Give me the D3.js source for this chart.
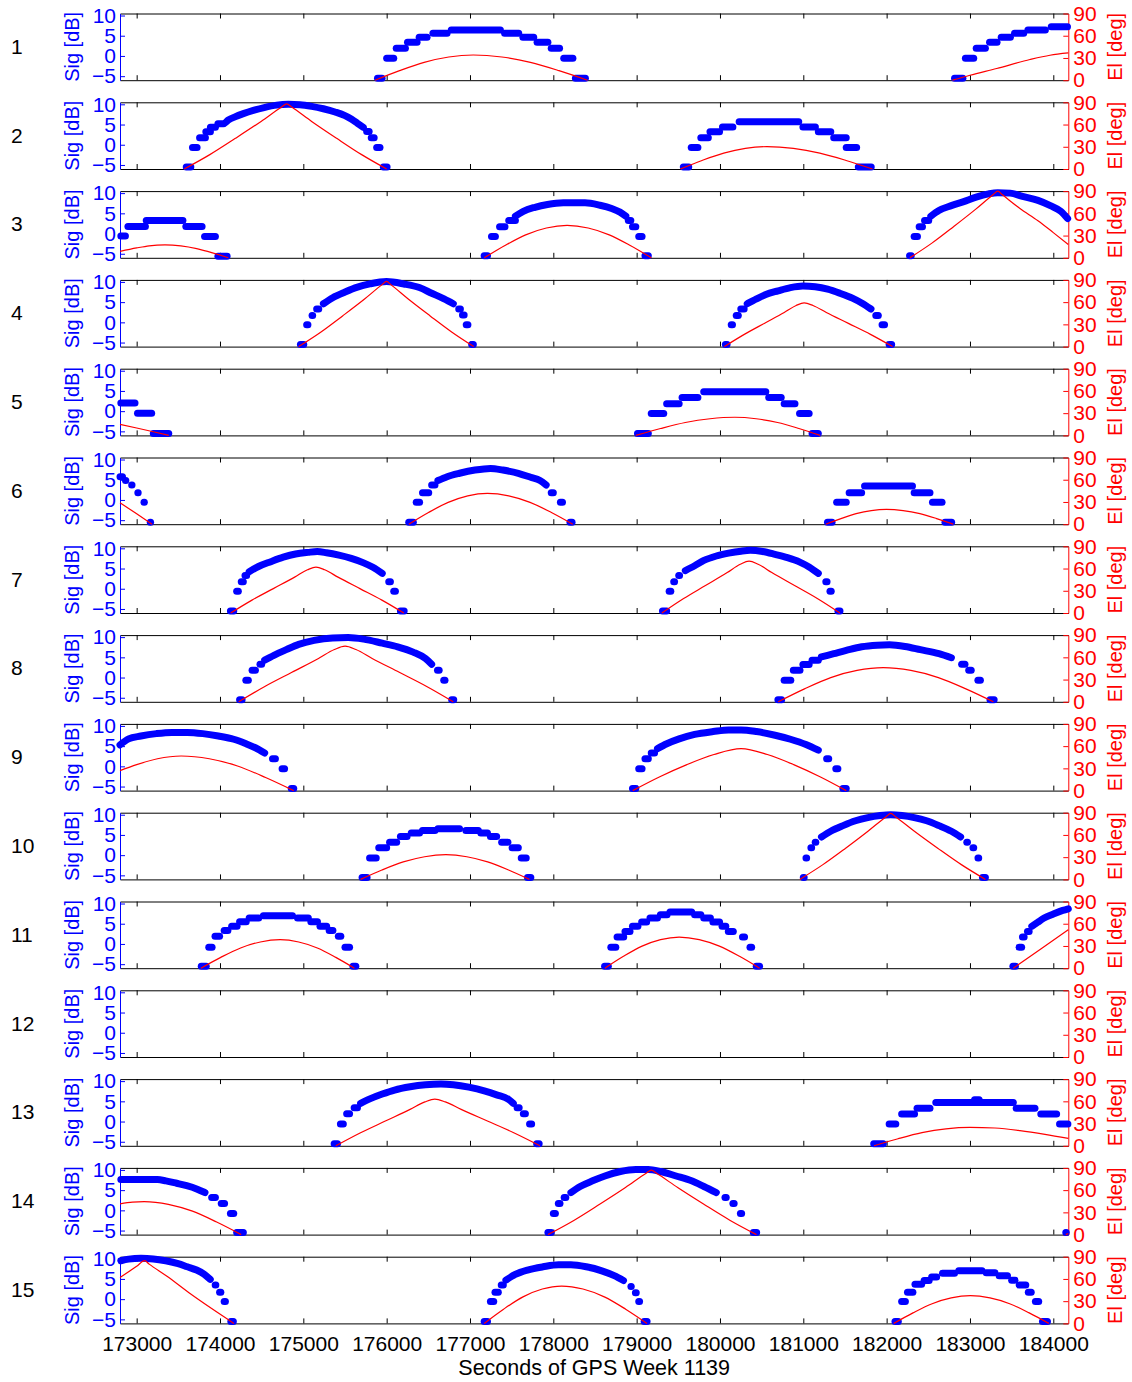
<!DOCTYPE html>
<html lang="en">
<head>
  <meta charset="UTF-8">
  <title>Signal and elevation, GPS week 1139</title>
  <script src="https://d3js.org/d3.v7.min.js"></script>
  <style>
    body { margin: 0; background: #fff; }
    svg { display: block; font-family: "Liberation Sans", Arial, Helvetica, sans-serif; }
  </style>
</head>
<body>
<svg width="1132" height="1382"></svg>
<script>
// tick values
var timeTicks = [173000, 174000, 175000, 176000, 177000, 178000, 179000, 180000, 181000, 182000, 183000, 184000];
var sigTicks = [-5, 0, 5, 10];
var elTicks = [0, 30, 60, 90];
var panelNames = ["1", "2", "3", "4", "5", "6", "7", "8", "9", "10", "11", "12", "13", "14", "15"];

// signal runs: each run is a list of [seconds, dB] (dot centres)
var sig01 = [
  [[175890,-5.5],[175945,-5.5]], [[176000,-0.6],[176085,-0.6]], [[176115,1.9],[176225,1.9]],
  [[176250,3.4],[176365,3.4]], [[176390,4.6],[176485,4.6]], [[176555,5.6],[176725,5.6]],
  [[176775,6.4],[177365,6.4]], [[177415,5.6],[177585,5.6]], [[177635,4.6],[177765,4.6]],
  [[177805,3.4],[177935,3.4]], [[177975,1.9],[178075,1.9]], [[178125,-0.6],[178235,-0.6]],
  [[178265,-5.5],[178385,-5.5]],
  [[182815,-5.5],[182915,-5.5]], [[182945,-0.6],[183045,-0.6]], [[183075,1.9],[183185,1.9]],
  [[183235,3.4],[183325,3.4]], [[183375,4.6],[183485,4.6]], [[183535,5.6],[183645,5.6]],
  [[183695,6.4],[183905,6.4]], [[183975,7.2],[184170,7.2]]
];
var sig02 = [
  [[173595,-5.5],[173650,-5.5]], [[173670,-0.7],[173725,-0.7]], [[173755,1.7],[173825,1.7]],
  [[173830,3.2],[173885,3.2]], [[173885,4.3],[173945,4.3]],
  [[173975,5.2],[174040,5.2],[174100,6.1],[174180,6.9],[174280,7.7],[174400,8.5],[174530,9.2],[174680,9.8],[174820,10.0],[174960,9.9],[175100,9.5],[175240,8.9],[175380,8.1],[175500,7.2],[175580,6.3],[175650,5.3],[175720,4.3]],
  [[175760,3.3],[175790,3.3]], [[175815,1.7],[175850,1.7]], [[175880,-0.7],[175920,-0.7]], [[175960,-5.5],[176005,-5.5]],
  [[179560,-5.5],[179625,-5.5]], [[179655,-0.7],[179735,-0.7]], [[179770,1.75],[179860,1.75]],
  [[179880,3.2],[179995,3.2]], [[180030,4.4],[180155,4.4]], [[180230,5.7],[180945,5.7]],
  [[180995,4.4],[181145,4.4]], [[181180,3.2],[181330,3.2]], [[181365,1.75],[181515,1.75]],
  [[181515,-0.7],[181640,-0.7]], [[181660,-5.5],[181815,-5.5]]
];
var sig03 = [
  [[172810,-0.6],[172865,-0.6]], [[172895,1.75],[173105,1.75]], [[173115,3.25],[173555,3.25]],
  [[173590,1.75],[173785,1.75]], [[173815,-0.7],[173945,-0.7]], [[173975,-5.6],[174085,-5.6]],
  [[177170,-5.5],[177210,-5.5]], [[177258,-0.7],[177305,-0.7]], [[177355,1.7],[177420,1.7]],
  [[177465,3.2],[177545,3.2]],
  [[177545,4.3],[177640,5.5],[177780,6.5],[177930,7.2],[178120,7.6],[178380,7.6],[178560,7.0],[178700,6.2],[178800,5.3],[178870,4.3]],
  [[178900,3.2],[178930,3.2]], [[178950,1.7],[178990,1.7]], [[179025,-0.7],[179065,-0.7]], [[179100,-5.5],[179140,-5.5]],
  [[182275,-5.5],[182295,-5.5]], [[182330,-0.7],[182370,-0.7]], [[182390,1.7],[182430,1.7]], [[182455,3.2],[182505,3.2]],
  [[182530,4.3],[182627,5.7],[182776,6.9],[182925,7.9],[183074,9.0],[183222,9.8],[183333,10.1],[183482,10.0],[183630,9.2],[183816,8.2],[183965,6.9],[184091,5.5],[184172,3.7]]
];
var sig04 = [
  [[174965,-5.5],[175005,-5.5]], [[175040,-0.6],[175055,-0.6]], [[175105,1.7],[175112,1.7]], [[175160,3.3],[175185,3.3]],
  [[175241,4.6],[175353,6.1],[175501,7.5],[175650,8.7],[175798,9.5],[175998,10.1],[176206,9.5],[176392,8.6],[176540,7.2],[176689,5.8],[176800,4.6]],
  [[176865,3.3],[176885,3.3]], [[176910,1.8],[176930,1.8]], [[176955,-0.6],[176975,-0.6]], [[177020,-5.5],[177040,-5.5]],
  [[180065,-5.5],[180085,-5.5]], [[180135,-0.6],[180150,-0.6]], [[180195,1.7],[180220,1.7]], [[180250,3.3],[180290,3.3]],
  [[180327,4.6],[180438,5.8],[180550,6.9],[180698,7.8],[180846,8.6],[180995,9.0],[181143,8.8],[181292,8.2],[181440,7.2],[181589,6.0],[181700,4.8],[181812,3.3]],
  [[181870,1.7],[181900,1.7]], [[181945,-0.6],[181975,-0.6]], [[182030,-5.5],[182060,-5.5]]
];
var sig05 = [
  [[172810,2.0],[172980,2.0]], [[173010,-0.5],[173180,-0.5]], [[173200,-5.5],[173385,-5.5]],
  [[179010,-5.5],[179140,-5.5]], [[179175,-0.6],[179325,-0.6]], [[179360,1.8],[179510,1.8]],
  [[179545,3.4],[179735,3.4]], [[179805,4.8],[180550,4.8]], [[180585,3.4],[180735,3.4]],
  [[180770,1.8],[180900,1.8]], [[180955,-0.6],[181070,-0.6]], [[181105,-5.5],[181180,-5.5]]
];
var sig06 = [
  [[172800,5.75],[172830,5.75]], [[172866,4.8],[172870,4.8]], [[172940,3.7],[172944,3.7]],
  [[173014,1.8],[173018,1.8]], [[173088,-0.6],[173092,-0.6]], [[173163,-5.5],[173167,-5.5]],
  [[176265,-5.5],[176320,-5.5]], [[176355,-0.6],[176395,-0.6]], [[176430,1.8],[176505,1.8]], [[176540,3.7],[176580,3.7]],
  [[176615,4.8],[176726,5.75],[176875,6.6],[177060,7.4],[177246,7.8],[177394,7.4],[177580,6.6],[177728,5.6],[177840,4.8],[177914,3.7]],
  [[177975,1.8],[178000,1.8]], [[178085,-0.6],[178110,-0.6]], [[178200,-5.5],[178225,-5.5]],
  [[181290,-5.5],[181345,-5.5]], [[181400,-0.6],[181515,-0.6]], [[181550,1.8],[181700,1.8]],
  [[181735,3.45],[182310,3.45]], [[182330,1.8],[182520,1.8]], [[182550,-0.6],[182665,-0.6]], [[182700,-5.5],[182780,-5.5]]
];
var sig07 = [
  [[174125,-5.5],[174165,-5.5]], [[174200,-0.6],[174220,-0.6]], [[174255,1.7],[174280,1.7]], [[174300,3.3],[174320,3.3]],
  [[174350,4.2],[174462,5.5],[174610,6.7],[174759,7.8],[174907,8.6],[175056,9.0],[175167,9.2],[175278,8.9],[175427,8.3],[175575,7.5],[175724,6.4],[175835,5.3],[175947,3.8]],
  [[176025,1.7],[176045,1.7]], [[176085,-0.6],[176105,-0.6]], [[176165,-5.5],[176210,-5.5]],
  [[179310,-5.5],[179360,-5.5]], [[179390,-0.6],[179410,-0.6]], [[179445,1.7],[179455,1.7]], [[179505,3.3],[179515,3.3]],
  [[179584,4.5],[179696,5.7],[179807,7.0],[179956,8.1],[180104,8.8],[180253,9.3],[180364,9.5],[180512,9.2],[180661,8.5],[180809,7.7],[180958,6.6],[181069,5.4],[181180,3.8]],
  [[181270,1.7],[181285,1.7]], [[181320,-0.6],[181335,-0.6]], [[181415,-5.5],[181440,-5.5]]
];
var sig08 = [
  [[174235,-5.5],[174265,-5.5]], [[174310,-0.7],[174340,-0.7]], [[174385,1.8],[174425,1.8]], [[174480,3.3],[174500,3.3]],
  [[174536,4.3],[174647,5.5],[174796,6.9],[174944,8.2],[175130,9.2],[175353,9.8],[175538,9.9],[175724,9.5],[175947,8.5],[176132,7.6],[176318,6.3],[176466,4.7],[176540,3.3]],
  [[176610,1.8],[176630,1.8]], [[176685,-0.7],[176700,-0.7]], [[176780,-5.5],[176805,-5.5]],
  [[180695,-5.5],[180740,-5.5]], [[180770,-0.7],[180850,-0.7]], [[180880,1.8],[180960,1.8]],
  [[180995,3.2],[181070,3.2]], [[181105,4.3],[181180,4.3]],
  [[181217,5.1],[181366,5.9],[181515,6.7],[181700,7.6],[181886,8.0],[182034,8.1],[182220,7.7],[182405,6.9],[182628,5.9],[182777,4.9]],
  [[182900,3.3],[182940,3.3]], [[182985,1.8],[183015,1.8]], [[183095,-0.7],[183125,-0.7]], [[183240,-5.5],[183290,-5.5]]
];
var sig09 = [
  [[172800,5.3],[172903,6.8],[173051,7.5],[173237,8.1],[173422,8.4],[173608,8.4],[173794,8.1],[173980,7.5],[174165,6.7],[174313,5.6],[174425,4.6],[174536,3.3]],
  [[174630,1.9],[174665,1.9]], [[174745,-0.6],[174775,-0.6]], [[174855,-5.5],[174885,-5.5]],
  [[178950,-5.5],[178990,-5.5]], [[179025,-0.6],[179065,-0.6]], [[179100,1.9],[179140,1.9]], [[179175,3.3],[179215,3.3]],
  [[179250,4.4],[179362,5.6],[179510,6.8],[179696,7.9],[179919,8.6],[180104,9.0],[180253,9.0],[180438,8.6],[180661,7.7],[180846,6.7],[181032,5.4],[181180,4.0]],
  [[181280,1.9],[181305,1.9]], [[181390,-0.6],[181415,-0.6]], [[181475,-5.5],[181515,-5.5]]
];
var sig10 = [
  [[175705,-5.5],[175765,-5.5]], [[175795,-0.7],[175875,-0.7]], [[175905,1.8],[176000,1.8]],
  [[176035,3.2],[176120,3.2]], [[176165,4.6],[176245,4.6]], [[176295,5.5],[176395,5.5]],
  [[176430,6.1],[176580,6.1]], [[176615,6.5],[176875,6.5]], [[176950,6.1],[177100,6.1]],
  [[177130,5.5],[177210,5.5]], [[177245,4.6],[177320,4.6]], [[177380,3.2],[177455,3.2]],
  [[177505,1.8],[177580,1.8]], [[177615,-0.7],[177675,-0.7]], [[177690,-5.5],[177730,-5.5]],
  [[181000,-5.5],[181010,-5.5]], [[181032,-0.7],[181040,-0.7]], [[181091,1.8],[181100,1.8]], [[181143,3.2],[181150,3.2]],
  [[181218,4.5],[181329,5.9],[181477,7.3],[181626,8.5],[181774,9.3],[181923,9.8],[182049,10.0],[182183,9.8],[182331,9.3],[182480,8.5],[182628,7.3],[182777,5.9],[182888,4.5]],
  [[182962,3.2],[182970,3.2]], [[183036,1.8],[183045,1.8]], [[183096,-0.7],[183105,-0.7]], [[183150,-5.5],[183185,-5.5]]
];
var sig11 = [
  [[173775,-5.5],[173835,-5.5]], [[173865,-0.8],[173905,-0.8]], [[173940,1.9],[173995,1.9]],
  [[174050,3.3],[174095,3.3]], [[174140,4.35],[174205,4.35]], [[174235,5.5],[174315,5.5]],
  [[174350,6.4],[174465,6.4]], [[174520,7.0],[174870,7.0]], [[174930,6.4],[175060,6.4]],
  [[175090,5.5],[175170,5.5]], [[175200,4.35],[175280,4.35]], [[175310,3.3],[175355,3.3]],
  [[175420,1.9],[175450,1.9]], [[175500,-0.8],[175555,-0.8]], [[175595,-5.5],[175630,-5.5]],
  [[178615,-5.5],[178660,-5.5]], [[178690,-0.8],[178750,-0.8]], [[178765,1.7],[178845,1.7]],
  [[178860,3.1],[178920,3.1]], [[178950,4.35],[179015,4.35]], [[179060,5.4],[179120,5.4]],
  [[179160,6.4],[179250,6.4]], [[179285,7.2],[179365,7.2]], [[179400,7.9],[179660,7.9]],
  [[179695,7.2],[179770,7.2]], [[179805,6.4],[179885,6.4]], [[179915,5.4],[179995,5.4]],
  [[180025,4.35],[180070,4.35]], [[180100,3.1],[180160,3.1]], [[180270,1.7],[180295,1.7]],
  [[180360,-0.8],[180380,-0.8]], [[180435,-5.5],[180475,-5.5]],
  [[183515,-5.5],[183545,-5.5]], [[183590,-0.8],[183620,-0.8]], [[183630,1.7],[183650,1.7]], [[183690,3.1],[183710,3.1]],
  [[183742,4.35],[183816,5.4],[183890,6.4],[184001,7.4],[184113,8.3],[184180,8.7]]
];
var sig12 = [];
var sig13 = [
  [[175370,-5.5],[175410,-5.5]], [[175445,-0.6],[175480,-0.6]], [[175520,1.9],[175555,1.9]], [[175610,3.4],[175650,3.4]],
  [[175687,4.5],[175798,5.6],[175947,6.8],[176095,7.8],[176281,8.6],[176466,9.1],[176652,9.3],[176800,9.1],[176986,8.5],[177171,7.6],[177320,6.6],[177468,5.4],[177520,4.5]],
  [[177565,3.4],[177590,3.4]], [[177640,1.9],[177665,1.9]], [[177715,-0.6],[177740,-0.6]], [[177800,-5.5],[177830,-5.5]],
  [[181845,-5.5],[181960,-5.5]], [[182030,-0.6],[182110,-0.6]], [[182180,1.85],[182335,1.85]],
  [[182365,3.3],[182520,3.3]], [[182590,4.7],[183520,4.7]], [[183055,5.4],[183110,5.4]],
  [[183555,3.3],[183780,3.3]], [[183850,1.85],[184040,1.85]], [[184075,-0.6],[184175,-0.6]]
];
var sig14 = [
  [[172810,7.6],[173250,7.6],[173350,7.3],[173480,6.7],[173600,6.1],[173720,5.3],[173820,4.4]],
  [[173900,3.2],[173945,3.2]], [[174015,1.7],[174055,1.7]], [[174125,-0.75],[174165,-0.75]], [[174200,-5.5],[174280,-5.5]],
  [[177935,-5.5],[177975,-5.5]], [[178000,-0.75],[178025,-0.75]], [[178060,1.7],[178080,1.7]], [[178130,3.2],[178150,3.2]],
  [[178211,4.4],[178322,5.9],[178471,7.3],[178619,8.5],[178805,9.6],[178990,10.1],[179139,10.1],[179287,9.6],[179473,8.5],[179659,7.3],[179807,5.9],[179956,4.4]],
  [[180060,3.2],[180075,3.2]], [[180155,1.7],[180170,1.7]], [[180245,-0.75],[180260,-0.75]], [[180400,-5.5],[180440,-5.5]],
  [[184150,-5.5],[184155,-5.5]]
];
var sig15 = [
  [[172810,9.5],[172903,9.9],[173051,10.1],[173200,9.95],[173348,9.5],[173497,8.8],[173608,8.0],[173719,7.2],[173808,6.2],[173883,4.9]],
  [[173942,3.5],[173950,3.5]], [[173995,1.7],[174010,1.7]], [[174050,-0.6],[174065,-0.6]], [[174130,-5.5],[174160,-5.5]],
  [[177170,-5.5],[177210,-5.5]], [[177245,-0.6],[177285,-0.6]], [[177300,1.7],[177340,1.7]], [[177375,3.5],[177400,3.5]],
  [[177431,4.7],[177543,6.1],[177691,7.2],[177877,8.0],[178062,8.5],[178211,8.5],[178396,8.0],[178582,7.0],[178731,5.8],[178842,4.6]],
  [[178931,3.1],[178935,3.1]], [[178985,1.6],[178995,1.6]], [[179025,-0.6],[179035,-0.6]], [[179090,-5.5],[179125,-5.5]],
  [[182100,-5.5],[182140,-5.5]], [[182180,-0.6],[182225,-0.6]], [[182250,1.7],[182315,1.7]],
  [[182340,3.7],[182420,3.7]], [[182450,4.6],[182510,4.6]], [[182540,5.5],[182600,5.5]],
  [[182670,6.4],[182815,6.4]], [[182865,7.0],[183145,7.0]], [[183195,6.5],[183300,6.5]],
  [[183350,5.8],[183450,5.8]], [[183500,4.7],[183540,4.7]], [[183590,3.5],[183670,3.5]],
  [[183700,1.7],[183735,1.7]], [[183785,-0.6],[183825,-0.6]], [[183870,-5.5],[183930,-5.5]]
];

// elevation passes: each pass is a list of [seconds, degrees]
var el01 = [
  [[175860,0],[176155,12.9],[176450,24.1],[176745,31.3],[177040,34],[177383,31.3],[177725,24.1],[178068,12.9],[178410,0]],
  [[182790,0],[183000,6.7],[183320,15.8],[183720,27.9],[183960,33.7],[184180,36.8]]
];
var el02 = [
  [[173570,0],[173878,19.4],[174185,41.4],[174493,64.2],[174739,83.6],[174800,88],[174860,83.6],[175100,64.2],[175400,41.4],[175700,19.4],[176000,0]],
  [[179525,0],[179785,11.5],[180045,21.4],[180305,27.8],[180565,30.2],[180881,27.8],[181198,21.4],[181514,11.5],[181830,0]]
];
var el03 = [
  [[172800,8.6],[173000,13.3],[173150,16.2],[173340,17.5],[173530,16.1],[173720,12.4],[173910,6.7],[174100,0]],
  [[177171,0],[177420,16.6],[177668,31],[177917,40.2],[178165,43.7],[178418,40.2],[178671,31],[178923,16.6],[179176,0]],
  [[182279,0],[182543,19.8],[182806,42.3],[183070,65.7],[183280,85.5],[183333,90],[183390,85],[183600,66.5],[183816,50],[184000,34],[184180,18]]
];
var el04 = [
  [[174944,0],[175208,19.4],[175471,41.4],[175735,64.2],[175945,83.6],[175998,88],[176050,83.6],[176259,64.2],[176522,41.4],[176784,19.4],[177045,0]],
  [[180052,0],[180292,16.5],[180531,31.3],[180771,46],[180914,55.5],[181010,59],[181116,55.5],[181276,46],[181541,31.3],[181806,16.5],[182071,0]]
];
var el05 = [
  [[172800,14.9],[173000,10],[173200,4.9],[173385,0]],
  [[178990,0],[179287,9.3],[179584,17.4],[179881,22.5],[180178,24.5],[180434,22.5],[180691,17.4],[180947,9.3],[181203,0]]
];
var el06 = [
  [[172800,29],[173000,14],[173185,0]],
  [[176266,0],[176502,15.8],[176738,29.5],[176973,38.3],[177209,41.6],[177465,38.3],[177721,29.5],[177977,15.8],[178233,0]],
  [[181270,0],[181452,7.6],[181634,14.2],[181816,18.4],[181998,20],[182198,18.4],[182399,14.2],[182599,7.6],[182799,0]]
];
var el07 = [
  [[174128,0],[174384,17.4],[174640,32.9],[174896,48.4],[175050,58.3],[175152,62],[175257,58.3],[175416,48.4],[175679,32.9],[175943,17.4],[176206,0]],
  [[179302,0],[179564,19.6],[179826,37.1],[180087,54.6],[180244,65.8],[180349,70],[180458,65.8],[180622,54.6],[180895,37.1],[181168,19.6],[181440,0]]
];
var el08 = [
  [[174224,0],[174543,21],[174863,39.8],[175182,58.5],[175373,70.5],[175501,75],[175631,70.5],[175826,58.5],[176151,39.8],[176475,21],[176800,0]],
  [[180698,0],[181014,17.5],[181329,32.7],[181645,42.3],[181960,46],[182290,42.3],[182621,32.7],[182951,17.5],[183281,0]]
];
var el09 = [
  [[172800,27],[173000,35],[173250,43],[173534,46.7],[173872,43],[174210,33.2],[174547,17.7],[174885,0]],
  [[178953,0],[179278,18.7],[179603,35.1],[179928,48.7],[180253,56.6],[180569,48.7],[180884,35.1],[181200,18.7],[181515,0]]
];
var el10 = [
  [[175687,0],[175943,12.7],[176199,23.6],[176455,30.6],[176711,33.3],[176962,30.6],[177212,23.6],[177463,12.7],[177713,0]],
  [[180958,0],[181231,19.6],[181504,41.8],[181776,65],[181994,84.6],[182049,89],[182106,84.6],[182333,65],[182617,41.8],[182901,19.6],[183185,0]]
];
var el11 = [
  [[173771,0],[174009,14.6],[174247,27.3],[174484,35.4],[174722,38.5],[174945,35.4],[175168,27.3],[175390,14.6],[175613,0]],
  [[178619,0],[178842,16],[179065,29.8],[179287,38.6],[179510,42],[179751,38.6],[179993,29.8],[180234,16],[180475,0]],
  [[183519,0],[183850,26],[184180,52]]
];
var el12 = [];
var el13 = [
  [[175390,0],[175687,17.6],[175984,33.4],[176281,49.1],[176459,59.2],[176578,63],[176704,59.2],[176894,49.1],[177209,33.4],[177525,17.6],[177840,0]],
  [[181849,0],[182137,9.5],[182424,17.7],[182712,22.9],[182999,24.9],[183300,24],[183600,20.5],[183900,15.5],[184180,10]]
];
var el14 = [
  [[172800,41.5],[172950,43.8],[173090,44.5],[173380,40.9],[173670,31.6],[173960,16.9],[174254,0]],
  [[177936,0],[178246,19.1],[178556,40.9],[178866,63.5],[179114,82.7],[179176,87],[179239,82.7],[179492,63.5],[179807,40.9],[180123,19.1],[180438,0]],
  [[184150,0],[184180,1.5]]
];
var el15 = [
  [[172800,62],[173000,77],[173096,84.6],[173150,80],[173364,63.5],[173632,41],[173900,20],[174167,0]],
  [[177171,0],[177403,19.2],[177636,35.8],[177868,46.4],[178100,50.4],[178356,46.4],[178612,35.8],[178868,19.2],[179124,0]],
  [[182086,0],[182316,14.2],[182546,26.6],[182775,34.4],[183005,37.4],[183240,34.4],[183476,26.6],[183711,14.2],[183946,0]]
];

var sigPanels = [sig01, sig02, sig03, sig04, sig05, sig06, sig07, sig08, sig09, sig10, sig11, sig12, sig13, sig14, sig15];
var elPanels = [el01, el02, el03, el04, el05, el06, el07, el08, el09, el10, el11, el12, el13, el14, el15];

var svg = d3.select("svg");
var left = 120, right = 1068.3, top0 = 13.5, step = 88.8, h = 66.7;
var blue = "#0000ff", red = "#ff0000";
var tickFont = 21, labelFont = 20;

var x = d3.scaleLinear().domain([172800, 184180]).range([left, right]);
var ySig = d3.scaleLinear().domain([-6, 10.5]).range([h, 0]);
var yEl = d3.scaleLinear().domain([0, 90]).range([h, 0]);

var sigLine = d3.line().x(function (d) { return x(d[0]); }).y(function (d) { return ySig(d[1]); }).curve(d3.curveMonotoneX);
var elLine = d3.line().x(function (d) { return x(d[0]); }).y(function (d) { return yEl(d[1]); }).curve(d3.curveMonotoneX);

panelNames.forEach(function (name, i) {
  var last = i === panelNames.length - 1;
  var g = svg.append("g").attr("transform", "translate(0," + (top0 + i * step) + ")");

  // time axes on top and bottom, ticks pointing in
  g.append("g")
    .attr("color", "#000")
    .call(d3.axisTop(x).tickValues(timeTicks).tickSize(-5).tickSizeOuter(0).tickFormat(""));
  var xb = g.append("g")
    .attr("transform", "translate(0," + h + ")")
    .attr("color", "#000")
    .call(d3.axisBottom(x).tickValues(timeTicks).tickSize(-5).tickSizeOuter(0).tickPadding(13)
      .tickFormat(last ? d3.format("d") : ""));
  xb.selectAll("text").attr("font-size", tickFont).attr("font-family", null);

  // signal axis
  var ya = g.append("g")
    .attr("transform", "translate(" + left + ",0)")
    .attr("color", blue)
    .call(d3.axisLeft(ySig).tickValues(sigTicks).tickSize(-5).tickSizeOuter(0).tickPadding(4));
  ya.selectAll("text").attr("font-size", tickFont).attr("font-family", null);

  // elevation axis
  var yb = g.append("g")
    .attr("transform", "translate(" + right + ",0)")
    .attr("color", red)
    .call(d3.axisRight(yEl).tickValues(elTicks).tickSize(-5).tickSizeOuter(0).tickPadding(5));
  yb.selectAll("text").attr("font-size", tickFont).attr("font-family", null);

  // signal dots
  g.append("g").selectAll("path")
    .data(sigPanels[i])
    .enter().append("path")
    .attr("d", sigLine)
    .attr("fill", "none")
    .attr("stroke", blue)
    .attr("stroke-width", 7)
    .attr("stroke-linecap", "round")
    .attr("stroke-linejoin", "round");

  // elevation lines
  g.append("g").selectAll("path")
    .data(elPanels[i])
    .enter().append("path")
    .attr("d", elLine)
    .attr("fill", "none")
    .attr("stroke", red)
    .attr("stroke-width", 1.2);

  // labels
  g.append("text")
    .attr("x", 11).attr("y", h / 2 + 7)
    .attr("font-size", tickFont)
    .text(name);
  g.append("text")
    .attr("transform", "translate(78.5," + (h / 2) + ")rotate(-90)")
    .attr("text-anchor", "middle")
    .attr("font-size", labelFont)
    .attr("fill", blue)
    .text("Sig [dB]");
  g.append("text")
    .attr("transform", "translate(1122," + (h / 2) + ")rotate(-90)")
    .attr("text-anchor", "middle")
    .attr("font-size", labelFont)
    .attr("fill", red)
    .text("El [deg]");
});

svg.append("text")
  .attr("x", (left + right) / 2)
  .attr("y", 1375)
  .attr("text-anchor", "middle")
  .attr("font-size", 21.5)
  .text("Seconds of GPS Week 1139");
</script>
</body>
</html>
